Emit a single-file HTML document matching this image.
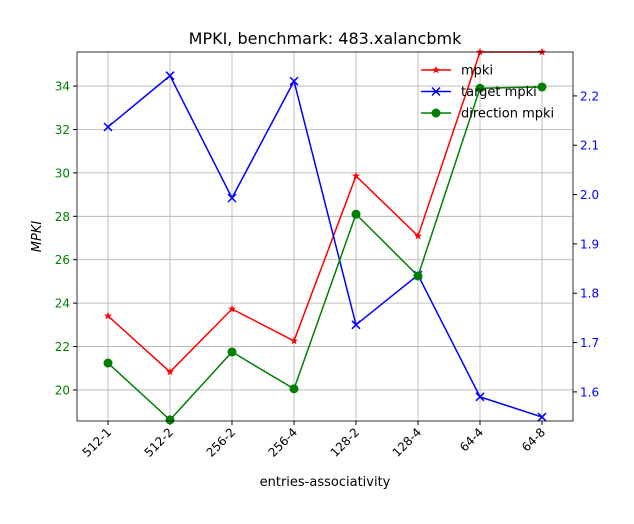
<!DOCTYPE html>
<html><head><meta charset="utf-8"><style>
body{margin:0;background:#fff;font-family:"Liberation Sans","DejaVu Sans",sans-serif}
svg text{font-family:"DejaVu Sans","Liberation Sans",sans-serif}
</style></head><body>
<svg id="c" width="634" height="519"></svg>
<script>
const categories=["512-1","512-2","256-2","256-4","128-2","128-4","64-4","64-8"];
const mpki=[23.41,20.83,23.73,22.26,29.86,27.09,35.57,35.57];
const directionMpki=[21.24,18.62,21.75,20.05,28.1,25.25,33.9,33.96];
const targetMpki=[2.137,2.241,1.993,2.230,1.736,1.837,1.590,1.549];
const leftTicks=[20,22,24,26,28,30,32,34];
const rightTicks=[1.6,1.7,1.8,1.9,2.0,2.1,2.2];
const NS="http://www.w3.org/2000/svg";
const svg=document.getElementById('c');
const L=77,R=573,T=52,B=421;
const lMin=18.57,lMax=35.57,rMin=1.541,rMax=2.289;
const x=i=>108+i*(542-108)/(categories.length-1);
const yl=v=>B-(v-lMin)/(lMax-lMin)*(B-T);
const yr=v=>B-(v-rMin)/(rMax-rMin)*(B-T);
function el(tag,a,parent){const e=document.createElementNS(NS,tag);for(const k in a)e.setAttribute(k,a[k]);(parent||svg).appendChild(e);return e;}
function txt(s,a){const e=el('text',a);e.textContent=s;return e;}
// grid
categories.forEach((c,i)=>{
const g=el('line',{x1:x(i),x2:x(i),y1:T,y2:B,stroke:'#b0b0b0','stroke-width':0.8});


const t=el('line',{x1:x(i),x2:x(i),y1:B,y2:B+4,stroke:'#000'});
const lb=txt(c,{x:0,y:0,'font-size':12,'text-anchor':'end',transform:`translate(${x(i)+4},${B+12}) rotate(-45)`});


});
leftTicks.forEach(v=>{
const g=el('line',{x1:L,x2:R,y1:yl(v),y2:yl(v),stroke:'#b0b0b0','stroke-width':0.8});


el('line',{x1:L-4,x2:L,y1:yl(v),y2:yl(v),stroke:'#000'});
const lb=txt(String(v),{x:L-7,y:yl(v)+4.5,'font-size':12,'text-anchor':'end',fill:'green'});


});
rightTicks.forEach(v=>{
el('line',{x1:R,x2:R+4,y1:yr(v),y2:yr(v),stroke:'#000'});
const lb=txt(v.toFixed(1),{x:R+7,y:yr(v)+4.5,'font-size':12,fill:'blue'});


});
function series(vals,yf,color,marker,name){
const g=el('g',{});


el('polyline',{points:vals.map((v,i)=>x(i)+','+yf(v)).join(' '),fill:'none',stroke:color,'stroke-width':1.5},g);
vals.forEach((v,i)=>drawMarker(g,x(i),yf(v),color,marker));
}
function drawMarker(g,cx,cy,color,m){
if(m==='o')el('circle',{cx,cy,r:4.5,fill:color},g);
else if(m==='x'){el('path',{d:`M${cx-4},${cy-4}L${cx+4},${cy+4}M${cx-4},${cy+4}L${cx+4},${cy-4}`,stroke:color,'stroke-width':1.5},g);}
else{const p=[];for(let k=0;k<10;k++){const r=k%2?1.7:4.2,a=-Math.PI/2+k*Math.PI/5;p.push((cx+r*Math.cos(a)).toFixed(2)+','+(cy+r*Math.sin(a)).toFixed(2));}el('polygon',{points:p.join(' '),fill:color},g);}
}
series(mpki,yl,'red','*','mpki-series');
series(targetMpki,yr,'blue','x','target-mpki-series');
series(directionMpki,yl,'green','o','direction-mpki-series');
el('rect',{x:L,y:T,width:R-L,height:B-T,fill:'none',stroke:'#000','stroke-width':0.8});
const legend=[['mpki','red','*'],['target mpki','blue','x'],['direction mpki','green','o']];
legend.forEach((d,i)=>{
const g=el('g',{});


const y=70+i*21.5;
el('line',{x1:421,x2:451,y1:y,y2:y,stroke:d[1],'stroke-width':1.5},g);
drawMarker(g,436,y,d[1],d[2]);
const t=el('text',{x:461,y:y+4.5,'font-size':13},g);t.textContent=d[0];
});
const ti=txt('MPKI, benchmark: 483.xalancbmk',{x:(L+R)/2,y:44,'font-size':16,'text-anchor':'middle'});


const xt=txt('entries-associativity',{x:(L+R)/2,y:486,'font-size':13,'text-anchor':'middle'});


const yt=txt('MPKI',{x:0,y:0,'font-size':13,'text-anchor':'middle','font-style':'italic',transform:`translate(41,${(T+B)/2}) rotate(-90)`});


</script>
</body></html>
